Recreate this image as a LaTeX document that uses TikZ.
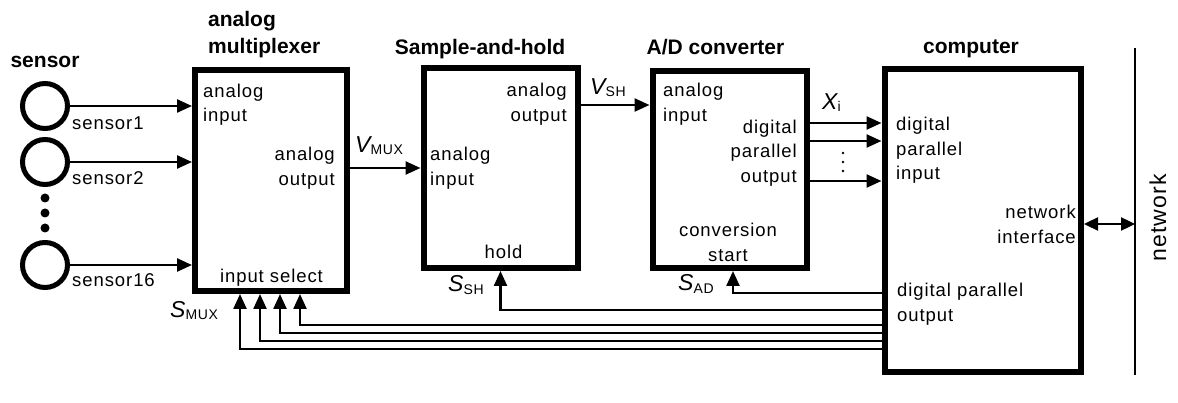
\documentclass[tikz,border=0pt]{standalone}
\usepackage{fontspec}
\setmainfont{Liberation Sans}
\newfontfamily\lblfont[LetterSpace=5]{Liberation Sans}
\usetikzlibrary{arrows.meta, positioning}

\newcommand{\signame}[2]{{\fontsize{23}{23}\selectfont\itshape #1}\raisebox{-2pt}{\lblfont\fontsize{14}{14}\selectfont #2}}

\begin{document}
\begin{tikzpicture}[x=1pt, y=-1pt,
        block/.style={draw, rectangle, line width=6pt, inner sep=0pt},
        sensorc/.style={draw, circle, line width=5pt, minimum size=45pt, inner sep=0pt},
        lbl/.style={inner sep=0pt, font=\lblfont\fontsize{18.5}{24.5}\selectfont},
        ttl/.style={inner sep=0pt, font=\fontsize{21}{26.5}\selectfont\bfseries},
        sig/.style={line width=2.4pt, -{Triangle[length=15pt, width=13pt]}},
        siglbl/.style={inner sep=0pt, anchor=base west}
    ]
    \useasboundingbox (0,0) rectangle (1178,403);

    % blocks
    \node[block, minimum width=152pt, minimum height=221pt] (mux) at (271,180.5) {};
    \node[block, minimum width=154pt, minimum height=199.5pt] (sh) at (500.5,168.25) {};
    \node[block, minimum width=154pt, minimum height=197pt] (ad) at (729.5,169.5) {};
    \node[block, minimum width=196.5pt, minimum height=303pt] (comp) at (982.75,220.5) {};

    % sensors
    \node[sensorc] (s1) at (45,106) {};
    \node[sensorc] (s2) at (45,162) {};
    \node[sensorc] (s16) at (45,265) {};
    \foreach \y in {198,213,228}
        \fill (45,\y) circle (4.5pt);

    % titles
    \node[ttl, anchor=base] (tsens) at (45,68) {sensor};
    \node[ttl, anchor=north west, align=left] (tmux) at (208,11.5) {analog\\multiplexer};
    \node[ttl, anchor=base] (tsh) at (480,55) {Sample-and-hold};
    \node[ttl, anchor=base] (tad) at (715.5,55) {A/D converter};
    \node[ttl, anchor=base] (tcomp) at (971,54) {computer};

    % port labels
    \node[lbl, anchor=base west] (ls1) at (72,130) {sensor1};
    \node[lbl, anchor=base west] (ls2) at (72,185) {sensor2};
    \node[lbl, anchor=base west] (ls16) at (72,287) {sensor16};

    \node[lbl, anchor=north west, align=left] (muxin) at (203,83.5) {analog\\input};
    \node[lbl, anchor=north east, align=right] (muxout) at (335,147) {analog\\output};
    \node[lbl, anchor=north] (muxsel) at (271.5,268.5) {input select};

    \node[lbl, anchor=north east, align=right] (shout) at (567,83) {analog\\output};
    \node[lbl, anchor=north west, align=left] (shin) at (430,147) {analog\\input};
    \node[lbl, anchor=north] (shhold) at (503.5,245) {hold};

    \node[lbl, anchor=north west, align=left] (adin) at (663,83) {analog\\input};
    \node[lbl, anchor=north east, align=right] (adout) at (797,119.5) {digital\\parallel\\output};
    \node[lbl, anchor=north, align=center] (adstart) at (728,223) {conversion\\start};

    \node[lbl, anchor=north west, align=left] (compin) at (896,117) {digital\\parallel\\input};
    \node[lbl, anchor=north east, align=right] (compnet) at (1076,205) {network\\interface};
    \node[lbl, anchor=north west, align=left] (compout) at (897,283) {digital parallel\\output};

    % signal names
    \node[siglbl] (vmux) at (355,153) {\signame{V}{MUX}};
    \node[siglbl] (vsh) at (590,95) {\signame{V}{SH}};
    \node[siglbl] (xi) at (822,110) {\signame{X}{i}};
    \node[siglbl] (smux) at (170,317) {\signame{S}{MUX}};
    \node[siglbl] (ssh) at (448,292) {\signame{S}{SH}};
    \node[siglbl] (sad) at (678,291) {\signame{S}{AD}};

    % sensor inputs
    \draw[sig] (s1) -- (s1 -| mux.west);
    \draw[sig] (s2) -- (s2 -| mux.west);
    \draw[sig] (s16) -- (s16 -| mux.west);

    % analog path
    \draw[sig] (mux.east |- 0,168) -- (sh.west |- 0,168);
    \draw[sig] (sh.east |- 0,105) -- (ad.west |- 0,105);

    % digital bus
    \foreach \y in {123,141,181}
        \draw[sig] (ad.east |- 0,\y) -- (comp.west |- 0,\y);
    \foreach \y in {153,162,171}
        \fill (843,\y) circle (1.4pt);

    % control lines
    \draw[sig] (comp.west |- 0,293) -| (733,0 |- ad.south);
    \draw[sig] (comp.west |- 0,310) -| (sh.south);
    \foreach \x/\y in {240/349, 260/341, 280/333, 300/325}
        \draw[sig] (comp.west |- 0,\y) -| (\x,0 |- mux.south);

    % network
    \coordinate (nettop) at (1135,48);
    \coordinate (netbot) at (1135,375);
    \draw[line width=2.5pt] (nettop) -- (netbot);
    \draw[line width=2.4pt, {Triangle[length=14pt, width=13pt]}-{Triangle[length=14pt, width=13pt]}]
        (comp.east |- 0,224) -- (nettop |- 0,224);
    \node[rotate=90, inner sep=0pt, font=\lblfont\fontsize{23}{23}\selectfont] (netlbl) at (1158,218) {network};

\end{tikzpicture}
\end{document}
